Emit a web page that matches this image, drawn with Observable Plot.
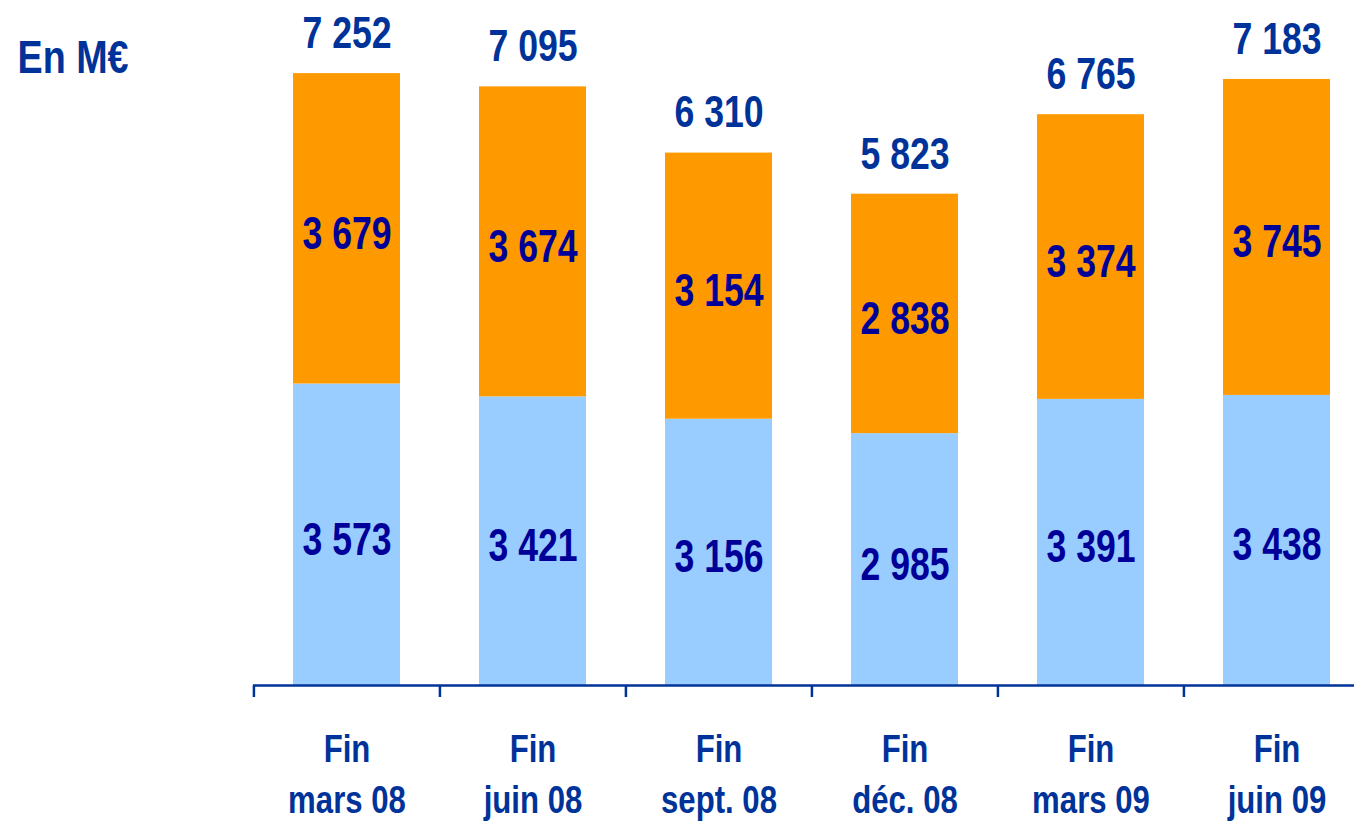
<!DOCTYPE html>
<html>
<head>
<meta charset="utf-8">
<script src="https://cdn.jsdelivr.net/npm/d3@7"></script>
<script src="https://cdn.jsdelivr.net/npm/@observablehq/plot@0.6"></script>
<style>
  html, body { margin: 0; padding: 0; background: #fff; overflow: hidden; }
  #chart svg { display: block; }
</style>
</head>
<body>
<div id="chart"></div>
<script>
const categories = ["Fin\nmars 08", "Fin\njuin 08", "Fin\nsept. 08", "Fin\ndéc. 08", "Fin\nmars 09", "Fin\njuin 09"];
const seriesNames = ["bas", "haut"];
const bottomValues = [3573, 3421, 3156, 2985, 3391, 3438];
const topValues = [3679, 3674, 3154, 2838, 3374, 3745];
const totals = [7252, 7095, 6310, 5823, 6765, 7183];
const unitLabel = "En M€";

const colors = {bas: "#99CCFF", haut: "#FF9900"};
const FONT = "'Liberation Sans', Arial, sans-serif";
const fmt = d3.formatLocale({decimal: ",", thousands: " ", grouping: [3], currency: ["", " €"]}).format(",d");

const rows = [];
categories.forEach((c, i) => {
  rows.push({cat: c, series: seriesNames[0], value: bottomValues[i]});
  rows.push({cat: c, series: seriesNames[1], value: topValues[i]});
});
const totalRows = categories.map((c, i) => ({cat: c, total: totals[i]}));

const yMax = 8000;
const yTop = 10, yBase = 685;
const tickLen = 12 * yMax / (yBase - yTop);
const xRange = [253, 1370];
const step = (xRange[1] - xRange[0]) / categories.length;

const chart = Plot.plot({
  width: 1354,
  height: 821,
  marginLeft: 253,
  marginRight: 0,
  marginTop: yTop,
  marginBottom: 821 - yBase,
  x: {domain: categories, range: xRange, paddingInner: 0.425, paddingOuter: 0.2125, axis: null},
  y: {domain: [0, yMax], range: [yBase, yTop], axis: null},
  color: {domain: seriesNames, range: seriesNames.map(s => colors[s])},
  marks: [
    Plot.barY(rows, Plot.stackY({x: "cat", y: "value", fill: "series", z: "series", order: seriesNames})),
    Plot.text(rows, Plot.stackY({
      x: "cat", y: "value", z: "series", order: seriesNames, text: d => fmt(d.value),
      fill: "#000099", fontSize: 44, fontWeight: "bold", fontFamily: FONT, dy: 5
    })),
    Plot.text(totalRows, {
      x: "cat", y: "total", text: d => fmt(d.total), dy: -40,
      fill: "#003399", fontSize: 44, fontWeight: "bold", fontFamily: FONT
    }),
    Plot.ruleY([0], {stroke: "#003399", strokeWidth: 2.5}),
    Plot.ruleX(categories, {
      x: d => d, dx: -step / 2, y1: 0, y2: -tickLen, stroke: "#003399", strokeWidth: 2.5
    }),
    Plot.text(categories, {
      x: d => d, y: 0, text: d => d, dy: 86, lineAnchor: "middle", lineHeight: 1.32,
      fill: "#003399", fontSize: 38, fontWeight: "bold", fontFamily: FONT
    }),
    Plot.text([unitLabel], {
      frameAnchor: "top-left", text: d => d, dx: 17 - 253, dy: 47.5, textAnchor: "start", lineAnchor: "middle",
      fill: "#003399", fontSize: 46, fontWeight: "bold", fontFamily: FONT
    })
  ]
});

// condense the text horizontally (narrow bold face look), in mark order
const textScales = [[0.81, 1.06], [0.81, 1.02], [0.82, 1.02], [0.82, 1.0]];
chart.querySelectorAll('g[aria-label="text"]').forEach((g, k) => {
  const [sx, sy] = textScales[k] || [1, 1];
  g.querySelectorAll("text").forEach(t => {
    const tr = t.getAttribute("transform");
    if (tr) {
      t.setAttribute("transform", tr + ` scale(${sx},${sy})`);
    } else {
      const x = +(t.getAttribute("x") || 0), y = +(t.getAttribute("y") || 0);
      t.removeAttribute("x"); t.removeAttribute("y");
      t.setAttribute("transform", `translate(${x},${y}) scale(${sx},${sy})`);
    }
  });
});
document.getElementById("chart").appendChild(chart);
</script>
</body>
</html>
